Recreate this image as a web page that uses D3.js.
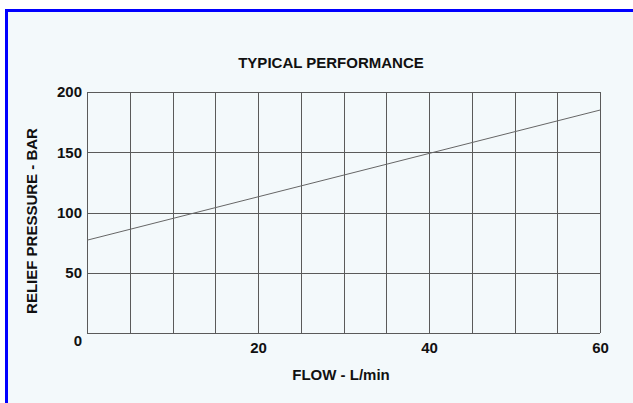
<!DOCTYPE html>
<html>
<head>
<meta charset="utf-8">
<script src="https://cdn.jsdelivr.net/npm/d3@7"></script>
<style>
  body { margin: 0; background: #fff; }
  svg { display: block; font-family: Arial, "Liberation Sans", sans-serif; }
  .tick text { font-weight: bold; fill: #111; }
</style>
</head>
<body>
<div id="chart-area"></div>
<script>
    // values
    var flow = [0, 20, 40, 60];
    var pressure = [77, 113, 149, 185];
    var xTickLabels = [20, 40, 60];
    var yTickLabels = [0, 50, 100, 150, 200];
    var gridStep = 5;

    var width = 633, height = 403;
    var margin = { left: 87, right: 33, top: 92, bottom: 70 };

    var svg = d3.select('#chart-area')
        .append('svg')
        .attr('width', width)
        .attr('height', height);

    // blue frame (top + left only, the picture is cropped)
    svg.append('rect')
        .attr('x', 5).attr('y', 9)
        .attr('width', width - 5).attr('height', height - 9)
        .attr('fill', '#0000ff');
    svg.append('rect')
        .attr('x', 8).attr('y', 12)
        .attr('width', width - 8).attr('height', height - 12)
        .attr('fill', '#f3f9fb');

    var xScale = d3.scaleLinear()
        .domain([0, 60])
        .range([margin.left, width - margin.right]);

    var yScale = d3.scaleLinear()
        .domain([0, 200])
        .range([height - margin.bottom, margin.top]);

    var g = svg.append('g');

    // grid
    var xGrid = d3.range(0, 60 + gridStep, gridStep);
    g.selectAll('.vgrid').data(xGrid).enter()
        .append('line')
        .attr('class', 'vgrid')
        .attr('x1', function(d) { return Math.round(xScale(d)) + 0.5; })
        .attr('x2', function(d) { return Math.round(xScale(d)) + 0.5; })
        .attr('y1', yScale(200))
        .attr('y2', yScale(0))
        .attr('stroke', '#5a5a5a')
        .attr('stroke-width', 1);

    g.selectAll('.hgrid').data(yTickLabels).enter()
        .append('line')
        .attr('class', 'hgrid')
        .attr('x1', xScale(0))
        .attr('x2', xScale(60))
        .attr('y1', function(d) { return Math.round(yScale(d)) + 0.5; })
        .attr('y2', function(d) { return Math.round(yScale(d)) + 0.5; })
        .attr('stroke', '#5a5a5a')
        .attr('stroke-width', 1);

    // axes (labels only)
    var yAxisCall = d3.axisLeft(yScale)
        .tickValues(yTickLabels)
        .tickSize(0)
        .tickPadding(5);
    var yAxis = g.append('g')
        .attr('class', 'y axis')
        .attr('transform', 'translate(' + margin.left + ',0)')
        .call(yAxisCall);
    yAxis.select('.domain').remove();
    yAxis.selectAll('text').attr('font-size', '15px');
    yAxis.selectAll('.tick').filter(function(d) { return d === 0; })
        .select('text').attr('dy', '0.8em');

    var xAxisCall = d3.axisBottom(xScale)
        .tickValues(xTickLabels)
        .tickSize(0)
        .tickPadding(9);
    var xAxis = g.append('g')
        .attr('class', 'x axis')
        .attr('transform', 'translate(0,' + (height - margin.bottom) + ')')
        .call(xAxisCall);
    xAxis.select('.domain').remove();
    xAxis.selectAll('text').attr('font-size', '15px');

    // curve
    var points = flow.map(function(f, i) { return [f, pressure[i]]; });
    var line = d3.line()
        .x(function(d) { return xScale(d[0]); })
        .y(function(d) { return yScale(d[1]); });
    g.append('path')
        .datum(points)
        .attr('d', line)
        .attr('fill', 'none')
        .attr('stroke', '#666')
        .attr('stroke-width', 1);

    // titles
    svg.append('text')
        .attr('x', 331).attr('y', 68)
        .attr('text-anchor', 'middle')
        .attr('font-size', '15px')
        .attr('font-weight', 'bold')
        .attr('fill', '#111')
        .text('TYPICAL PERFORMANCE');

    svg.append('text')
        .attr('x', 341).attr('y', 380)
        .attr('text-anchor', 'middle')
        .attr('font-size', '15px')
        .attr('font-weight', 'bold')
        .attr('fill', '#111')
        .text('FLOW - L/min');

    svg.append('text')
        .attr('transform', 'translate(37,221) rotate(-90)')
        .attr('text-anchor', 'middle')
        .attr('font-size', '15px')
        .attr('font-weight', 'bold')
        .attr('fill', '#111')
        .text('RELIEF PRESSURE - BAR');
</script>
</body>
</html>
